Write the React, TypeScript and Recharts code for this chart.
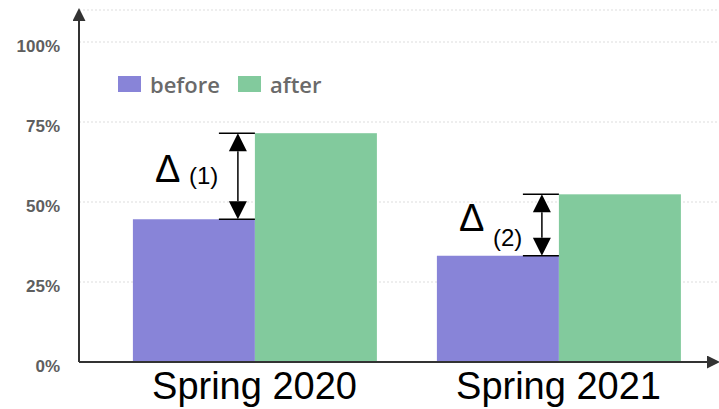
import { Bar, BarChart, CartesianGrid, Legend, XAxis, YAxis } from 'recharts';

const categories = ['Spring 2020', 'Spring 2021'];
const beforeValues = [44.6, 33.2];
const afterValues = [71.5, 52.4];
const deltaLabels = ['(1)', '(2)'];
const yTicks = [0, 25, 50, 75, 100];
const seriesOrder = ['before', 'after'];

const data = categories.map((season, i) => ({
  season,
  before: beforeValues[i],
  after: afterValues[i],
  delta: deltaLabels[i],
}));

const BEFORE_COLOR = '#8884d8';
const AFTER_COLOR = '#82ca9d';

// after-bar plus the Δ bracket that spans from the before level up to the after level
const AfterWithDelta = (props: any) => {
  const { x, y, width, height, fill, payload, index } = props;
  const bottom = y + height;
  const beforeY = bottom - height * (payload.before / payload.after);
  const left = x - 36;
  const ax = x - 17;
  const head = 18;
  const mid = (y + beforeY) / 2;
  const subDy = index === 0 ? 2 : 15;
  return (
    <g>
      <rect x={x} y={y} width={width} height={height} fill={fill} />
      <line x1={left} x2={x} y1={y} y2={y} stroke="#000" strokeWidth={1.5} />
      <line x1={left} x2={x} y1={beforeY} y2={beforeY} stroke="#000" strokeWidth={1.5} />
      <line x1={ax} x2={ax} y1={y + head} y2={beforeY - head} stroke="#000" strokeWidth={1.5} />
      <polygon points={`${ax},${y} ${ax - 9},${y + head} ${ax + 9},${y + head}`} fill="#000" />
      <polygon points={`${ax},${beforeY} ${ax - 9},${beforeY - head} ${ax + 9},${beforeY - head}`} fill="#000" />
      <text x={x - 100} y={mid + 6} fontSize={38} fontFamily="'Liberation Sans', Arial, sans-serif" fill="#000">
        Δ
      </text>
      <text x={x - 66} y={mid + 6 + subDy} fontSize={24} fontFamily="'Liberation Sans', Arial, sans-serif" fill="#000">
        {payload.delta}
      </text>
    </g>
  );
};

const renderLegend = (props: any) => {
  const items = [...(props.payload || [])].sort(
    (a: any, b: any) => seriesOrder.indexOf(a.value) - seriesOrder.indexOf(b.value)
  );
  return (
    <div
      style={{
        display: 'flex',
        alignItems: 'center',
        fontFamily: "'Open Sans', sans-serif",
        fontSize: 22,
        fontWeight: 600,
        color: '#6a6a6a',
        lineHeight: '28px',
      }}
    >
      {items.map((entry: any) => (
        <span key={entry.value} style={{ display: 'flex', alignItems: 'center', marginRight: 18 }}>
          <span style={{ display: 'inline-block', width: 23, height: 16, background: entry.color, marginRight: 9 }} />
          {entry.value}
        </span>
      ))}
    </div>
  );
};

export default function App() {
  return (
    <div style={{ position: 'absolute', left: 0, top: 0, background: '#fff' }}>
      <BarChart
        width={719}
        height={409}
        data={data}
        margin={{ top: 10, right: 1, bottom: 0, left: 0 }}
        barCategoryGap="10%"
        barGap={0}
      >
        <defs>
          <marker
            id="axisArrow"
            viewBox="0 0 10 10"
            refX={8.5}
            refY={5}
            markerUnits="userSpaceOnUse"
            markerWidth={13}
            markerHeight={13}
            orient="auto-start-reverse"
          >
            <path d="M0,0 L10,5 L0,10 z" fill="#333" />
          </marker>
        </defs>
        <CartesianGrid vertical={false} stroke="#ddd" strokeDasharray="2 2" />
        <XAxis
          dataKey="season"
          height={47}
          padding={{ left: 23.5, right: 7.5 }}
          tickLine={false}
          tickMargin={4}
          axisLine={{ stroke: '#333', strokeWidth: 2, markerEnd: 'url(#axisArrow)' }}
          tick={{ fontSize: 38, fill: '#000', fontFamily: "'Liberation Sans', Arial, sans-serif" }}
        />
        <YAxis
          width={79}
          domain={[0, 110]}
          ticks={yTicks}
          tickFormatter={(v: number) => `${v}%`}
          tickLine={false}
          tickMargin={13}
          axisLine={{ stroke: '#333', strokeWidth: 2, markerStart: 'url(#axisArrow)' }}
          tick={{ fontSize: 17, fill: '#5e5e5e', fontWeight: 'bold', dy: 4, fontFamily: "'Liberation Sans', Arial, sans-serif" }}
        />
        <Legend
          layout="horizontal"
          verticalAlign="middle"
          align="center"
          content={renderLegend}
          wrapperStyle={{ left: 118, top: 70, width: 'auto' }}
        />
        <Bar dataKey="before" name="before" fill={BEFORE_COLOR} isAnimationActive={false} />
        <Bar dataKey="after" name="after" fill={AFTER_COLOR} shape={AfterWithDelta} isAnimationActive={false} />
      </BarChart>
    </div>
  );
}
